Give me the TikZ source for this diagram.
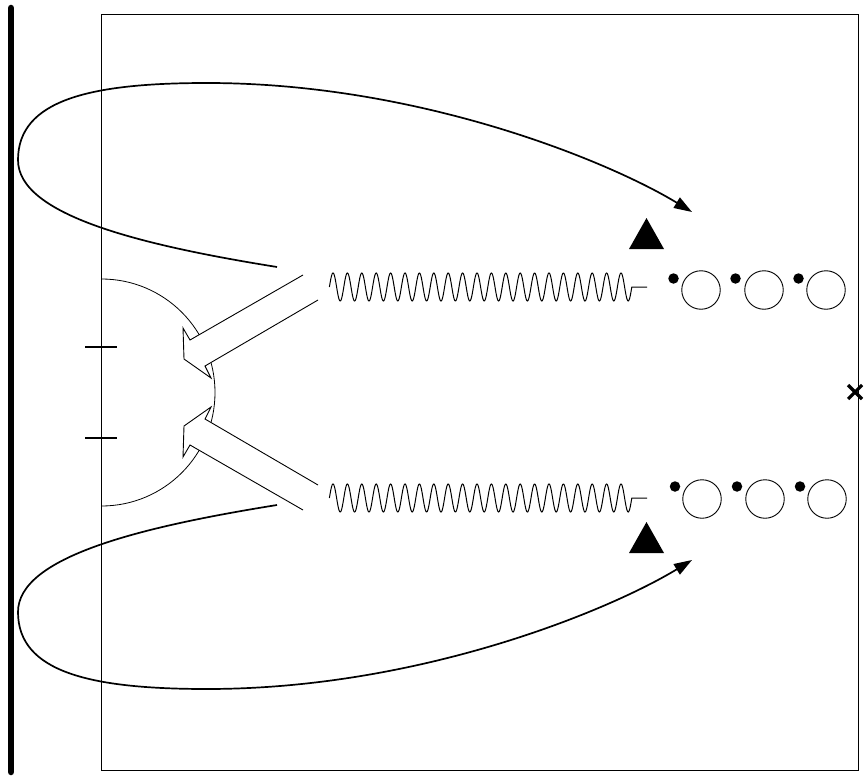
\documentclass[tikz,border=0pt]{standalone}
\usetikzlibrary{arrows.meta}
\begin{document}
\begin{tikzpicture}[x=1pt,y=-1pt,
  frame/.style={line width=1.5pt},
  tick/.style={line width=1.2pt},
  blockarrow/.style={line width=0.9pt, line join=miter},
  loopcurve/.style={line width=1.7pt, -{Triangle[length=18pt,width=12pt]}},
  spring/.style={line width=1pt},
  ball/.style={circle, draw, line width=0.9pt, minimum size=38.5pt, inner sep=0pt},
  dot/.style={circle, fill, minimum size=10.5pt, inner sep=0pt},
  marker/.style={fill, line join=miter}]
\useasboundingbox (0,0) rectangle (864,778);

% wall on the left
\draw[line width=6.5pt, line cap=round] (11,8) -- (11,772);

% box
\draw[frame] (101.5,14.5) rectangle (858.5,770.5);

% ticks on the left side of the box
\draw[tick] (85,347) -- (117,347);
\draw[tick] (85,438) -- (117,438);

% half circle
\begin{scope}
  \clip (101.5,0) rectangle (400,778);
  \draw[line width=0.8pt] (101.5,392.5) circle[radius=113.5pt];
\end{scope}

% hollow block arrows (white fill hides the arc behind them)
\fill[white] (303,275) -- (190,340) -- (183,328) -- (184,359) -- (211,378) -- (205,366) -- (318,300) -- cycle;
\draw[blockarrow] (303,275) -- (190,340) -- (183,328) -- (184,359) -- (211,378) -- (205,366) -- (318,300);
\fill[white] (303,510) -- (190,445) -- (183,457) -- (184,426) -- (211,407) -- (205,419) -- (318,485) -- cycle;
\draw[blockarrow] (303,510) -- (190,445) -- (183,457) -- (184,426) -- (211,407) -- (205,419) -- (318,485);

% springs
\draw[spring] plot[domain=0:302.4, samples=600] ({329.4+\x},{287-14*sin(25*\x)}) -- (647,287);
\draw[spring] plot[domain=0:302.4, samples=600] ({329.4+\x},{498-14*sin(25*\x)}) -- (647,498);

% upper row of balls
\node[ball] (u1) at (701,290) {};
\node[ball] (u2) at (764,290) {};
\node[ball] (u3) at (826,290) {};
\node[dot] (ud1) at (673.5,278.5) {};
\node[dot] (ud2) at (735.5,278.5) {};
\node[dot] (ud3) at (798.5,278.5) {};

% lower row of balls
\node[ball] (l1) at (702,499) {};
\node[ball] (l2) at (765,499) {};
\node[ball] (l3) at (827,499) {};
\node[dot] (ld1) at (675,486.5) {};
\node[dot] (ld2) at (737,486.5) {};
\node[dot] (ld3) at (800,486.5) {};

% triangles
\fill[marker] (629,249) -- (664,249) -- (646.5,218) -- cycle;
\fill[marker] (629,553) -- (664,553) -- (646.5,522) -- cycle;

% cross on the right side
\draw[line width=3.2pt] (848,385) -- (862,399) (848,399) -- (862,385);

% loop curves
\coordinate (ustart) at (277,267);
\coordinate (uend) at (692,212);
\draw[loopcurve] (ustart) .. controls (140,245) and (18,215) .. (18,160)
  .. controls (18,100) and (90,83) .. (207,83)
  .. controls (420,83) and (610,162) .. (uend);
\coordinate (lstart) at (277,505);
\coordinate (lend) at (692,560);
\draw[loopcurve] (lstart) .. controls (140,527) and (18,557) .. (18,612)
  .. controls (18,672) and (90,689) .. (207,689)
  .. controls (420,689) and (610,610) .. (lend);
\end{tikzpicture}
\end{document}
